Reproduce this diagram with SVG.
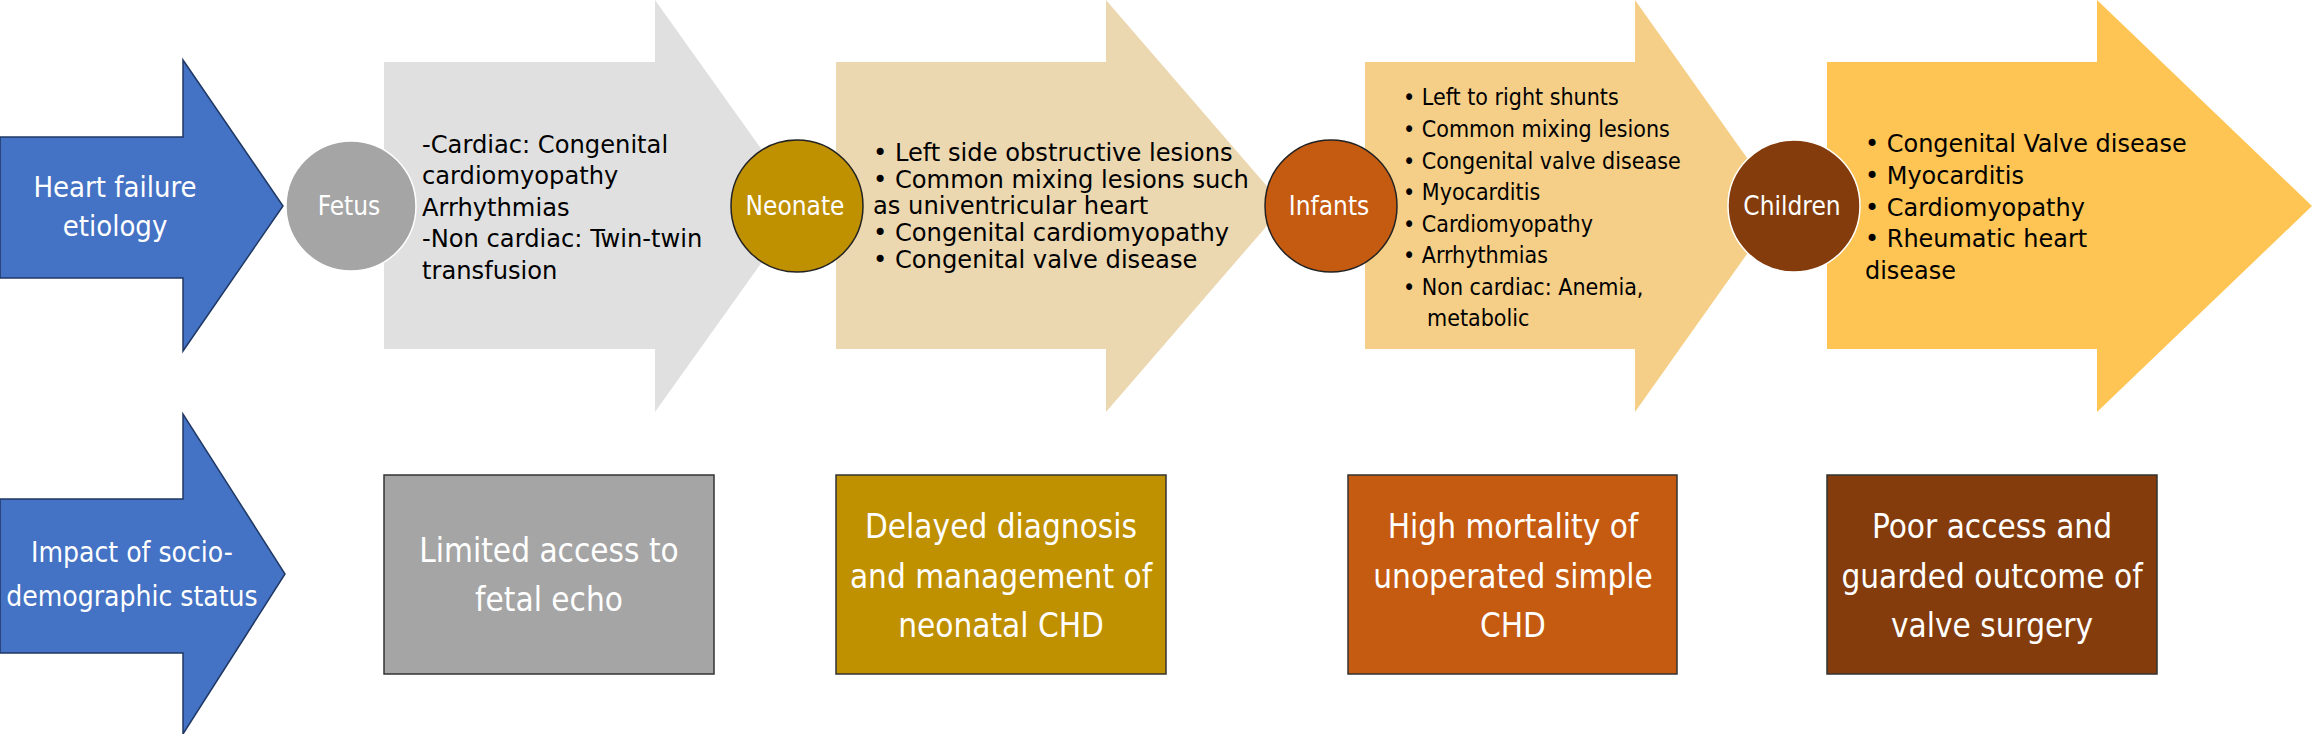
<svg xmlns="http://www.w3.org/2000/svg" width="2314" height="734" viewBox="0 0 2314 734">
<style>
text{font-family:"DejaVu Sans Condensed","DejaVu Sans",sans-serif}
.b{font-size:24px;fill:#000}
.s{font-size:23px;fill:#000}
.w{fill:#fff;text-anchor:middle}
.c{font-size:26px}
.box{stroke:#333;stroke-width:1.5}
.h{font-size:29px}
.h2{font-size:28px}
.bx{font-size:33px}
</style>
<rect width="2314" height="734" fill="#fff"/>
<g id="blue1"><polygon points="0,137 183,137 183,60 283,206 183,351 183,278 0,278" fill="#4472c4" stroke="#1f3864" stroke-width="1.5"/>
<text class="w h" x="115" y="197">Heart failure</text><text class="w h" x="115" y="236">etiology</text></g>
<g id="blue2"><polygon points="0,499 183,499 183,414 285,574 183,734 183,653 0,653" fill="#4472c4" stroke="#1f3864" stroke-width="1.5"/>
<text class="w h2" x="132" y="562">Impact of socio-</text><text class="w h2" x="132" y="606">demographic status</text></g>
<g id="arrowFetus"><polygon points="384,62 655,62 655,0 802,206 655,412 655,349 384,349" fill="#e0e0e0"/>
<g transform="translate(422,0) scale(1.12,1)"><text class="b" x="0" y="153">-Cardiac: Congenital</text><text class="b" x="0" y="184">cardiomyopathy</text><text class="b" x="0" y="216">Arrhythmias</text><text class="b" x="0" y="247">-Non cardiac: Twin-twin</text><text class="b" x="0" y="279">transfusion</text></g></g>
<g id="arrowNeonate"><polygon points="836,62 1106,62 1106,0 1284,206 1106,412 1106,349 836,349" fill="#ecd8b0"/>
<g transform="translate(873,0) scale(1.12,1)"><text class="b" x="0" y="161">• Left side obstructive lesions</text><text class="b" x="0" y="188">• Common mixing lesions such</text><text class="b" x="0" y="214">as univentricular heart</text><text class="b" x="0" y="241">• Congenital cardiomyopathy</text><text class="b" x="0" y="268">• Congenital valve disease</text></g></g>
<g id="arrowInfants"><polygon points="1365,62 1635,62 1635,0 1781,206 1635,412 1635,349 1365,349" fill="#f5cf87"/>
<text class="s" x="1403" y="105">• Left to right shunts</text><text class="s" x="1403" y="137">• Common mixing lesions</text><text class="s" x="1403" y="169">• Congenital valve disease</text><text class="s" x="1403" y="200">• Myocarditis</text><text class="s" x="1403" y="232">• Cardiomyopathy</text><text class="s" x="1403" y="263">• Arrhythmias</text><text class="s" x="1403" y="295">• Non cardiac: Anemia,</text><text class="s" x="1427" y="326">metabolic</text></g>
<g id="arrowChildren"><polygon points="1827,62 2097,62 2097,0 2312,206 2097,412 2097,349 1827,349" fill="#fec554"/>
<g transform="translate(1865,0) scale(1.11,1)"><text class="b" x="0" y="152">• Congenital Valve disease</text><text class="b" x="0" y="184">• Myocarditis</text><text class="b" x="0" y="216">• Cardiomyopathy</text><text class="b" x="0" y="247">• Rheumatic heart</text><text class="b" x="0" y="279">disease</text></g></g>
<g id="fetus"><circle cx="351" cy="206" r="65" fill="#a5a5a5" stroke="#fff" stroke-width="1.5"/><text class="w c" x="349" y="215">Fetus</text></g>
<g id="neonate"><circle cx="797" cy="206" r="66" fill="#bf9000" stroke="#222" stroke-width="1.5"/><text class="w c" x="795" y="215">Neonate</text></g>
<g id="infants"><circle cx="1331" cy="206" r="66" fill="#c55a11" stroke="#222" stroke-width="1.5"/><text class="w c" x="1329" y="215">Infants</text></g>
<g id="children"><circle cx="1794" cy="206" r="66" fill="#843c0c" stroke="#fff" stroke-width="1.5"/><text class="w c" x="1792" y="215">Children</text></g>
<g id="box1"><rect class="box" x="384" y="475" width="330" height="199" fill="#a5a5a5"/><text class="w bx" x="549" y="562">Limited access to</text><text class="w bx" x="549" y="611">fetal echo</text></g>
<g id="box2"><rect class="box" x="836" y="475" width="330" height="199" fill="#bf9000"/><text class="w bx" x="1001" y="538">Delayed diagnosis</text><text class="w bx" x="1001" y="588">and management of</text><text class="w bx" x="1001" y="637">neonatal CHD</text></g>
<g id="box3"><rect class="box" x="1348" y="475" width="329" height="199" fill="#c55a11"/><text class="w bx" x="1513" y="538">High mortality of</text><text class="w bx" x="1513" y="588">unoperated simple</text><text class="w bx" x="1513" y="637">CHD</text></g>
<g id="box4"><rect class="box" x="1827" y="475" width="330" height="199" fill="#843c0c"/><text class="w bx" x="1992" y="538">Poor access and</text><text class="w bx" x="1992" y="588">guarded outcome of</text><text class="w bx" x="1992" y="637">valve surgery</text></g>
<g id="connectors"></g>
</svg>
